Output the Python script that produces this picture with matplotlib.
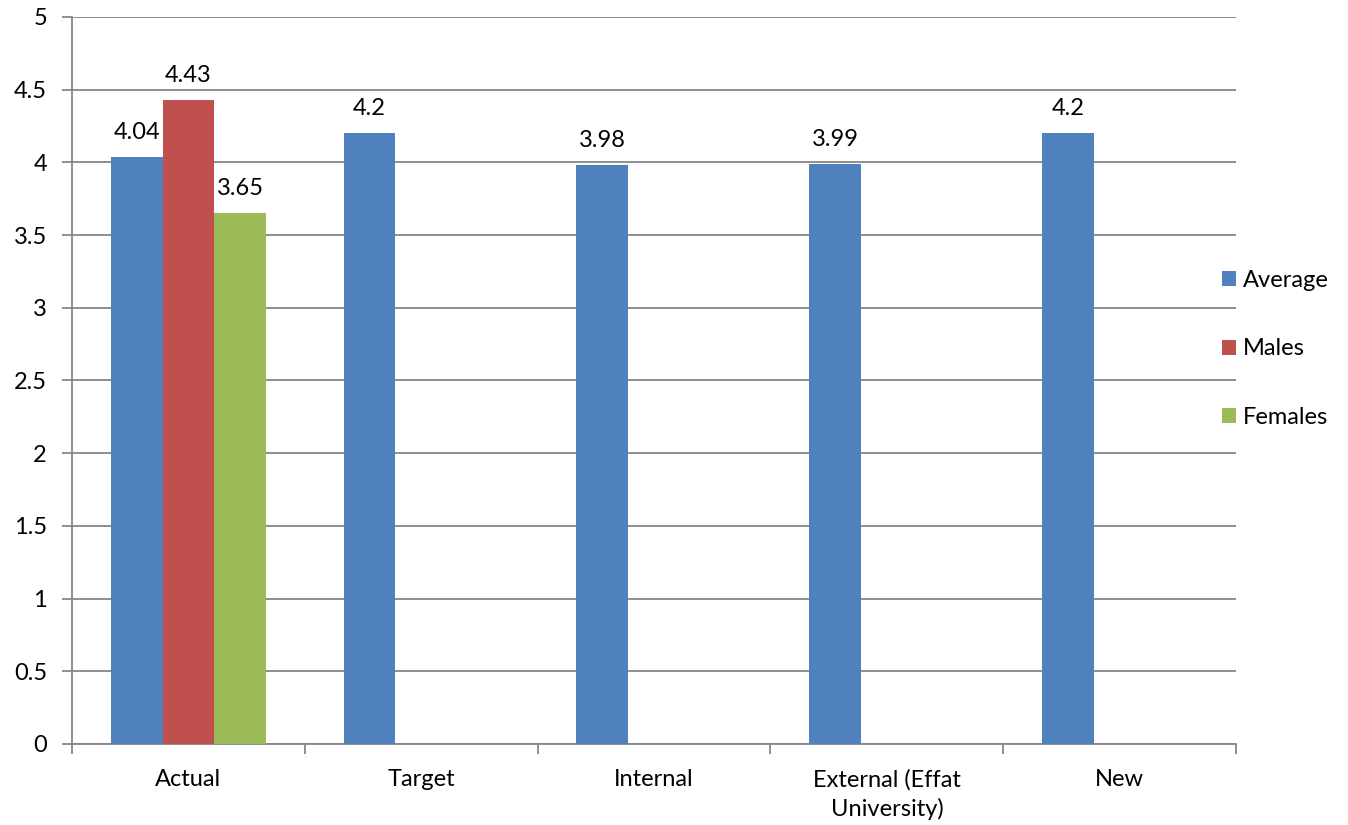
import matplotlib
matplotlib.use("Agg")
import matplotlib.pyplot as plt
import numpy as np
from matplotlib.ticker import FixedLocator, FuncFormatter, MultipleLocator

categories = ["Actual", "Target", "Internal", "External (Effat\nUniversity)", "New"]
average = [4.04, 4.2, 3.98, 3.99, 4.2]
males = [4.43, np.nan, np.nan, np.nan, np.nan]
females = [3.65, np.nan, np.nan, np.nan, np.nan]

series = [("Average", average, "#4F81BD"),
          ("Males", males, "#C0504D"),
          ("Females", females, "#9BBB59")]

plt.rcParams["font.family"] = ["Lato", "DejaVu Sans"]
plt.rcParams["font.size"] = 17

fig = plt.figure(figsize=(13.48, 8.25), dpi=100)
ax = fig.add_axes([0.0534, 0.0982, 0.8636, 0.8812])

x = np.arange(len(categories))
width = 1 / 4.5  # Excel gap width 150%
grey = "#868686"

for i, (name, vals, color) in enumerate(series):
    offs = (i - 1) * width
    bars = ax.bar(x + offs, vals, width=width, color=color, label=name, zorder=3)
    for b, v in zip(bars, vals):
        if np.isnan(v):
            continue
        ax.annotate(f"{v:g}", (b.get_x() + b.get_width() / 2, v),
                    xytext=(0, 10), textcoords="offset points",
                    ha="center", va="bottom")

ax.set_xlim(-0.5, len(categories) - 0.5)
ax.set_ylim(0, 5)
ax.yaxis.set_major_locator(MultipleLocator(0.5))
ax.yaxis.set_major_formatter(FuncFormatter(lambda v, _: f"{v:g}"))
ax.grid(axis="y", color=grey, lw=1.3, zorder=0)

ax.set_xticks(x)
ax.set_xticklabels(categories, linespacing=1.4)
ax.xaxis.set_minor_locator(FixedLocator(np.arange(len(categories) + 1) - 0.5))
ax.tick_params(axis="x", which="major", length=0, pad=18)
ax.tick_params(axis="x", which="minor", length=7, color=grey, width=1.3)
ax.tick_params(axis="y", length=7, color=grey, width=1.3, pad=11)

for side in ("top", "right"):
    ax.spines[side].set_visible(False)
for side in ("left", "bottom"):
    ax.spines[side].set_color(grey)
    ax.spines[side].set_linewidth(1.3)

fig.legend(loc="center left", bbox_to_anchor=(0.9065, 0.577), frameon=False,
           borderpad=0, borderaxespad=0,
           handlelength=0.6, handleheight=0.6, handletextpad=0.3,
           labelspacing=2.0)

fig.savefig("out.png", dpi=100)
